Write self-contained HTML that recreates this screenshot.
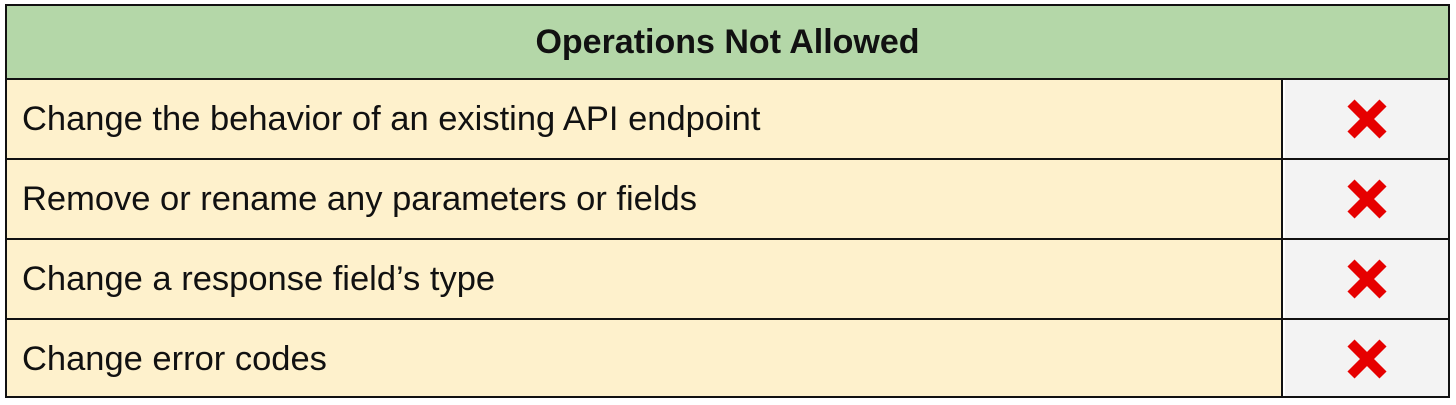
<!DOCTYPE html>
<html><head><style>
body{margin:0;width:1456px;height:405px;background:#fff;font-family:"Liberation Sans",Arial,sans-serif;}
.t{position:absolute;left:5px;top:4px;width:1445px;height:394px;border:2px solid #111;box-sizing:border-box;}
.h{position:absolute;left:0;top:0;width:1441px;height:72px;background:#b4d7a8;border-bottom:2px solid #111;text-align:center;line-height:72px;font-weight:bold;font-size:34px;color:#111;}
.r{position:absolute;left:0;width:1441px;height:80px;box-sizing:border-box;border-bottom:2px solid #111;}
.l{position:absolute;left:0;top:0;width:1276px;height:78px;background:#fef1cc;border-right:2px solid #111;font-size:34.5px;line-height:78px;padding-left:15px;box-sizing:border-box;color:#111;}
.c{position:absolute;left:1278px;top:0;width:163px;height:78px;background:#f3f3f3;}
.c svg{position:absolute;left:60px;top:17px;}
</style></head><body>
<div class="t">
<div class="h">Operations Not Allowed</div>
<div class="r" style="top:74px"><div class="l">Change the behavior of an existing API endpoint</div><div class="c"><svg width="44" height="44"><path d="M6 6L38 38M38 6L6 38" stroke="#e60000" stroke-width="10"/></svg></div></div>
<div class="r" style="top:154px"><div class="l">Remove or rename any parameters or fields</div><div class="c"><svg width="44" height="44"><path d="M6 6L38 38M38 6L6 38" stroke="#e60000" stroke-width="10"/></svg></div></div>
<div class="r" style="top:234px"><div class="l">Change a response field’s type</div><div class="c"><svg width="44" height="44"><path d="M6 6L38 38M38 6L6 38" stroke="#e60000" stroke-width="10"/></svg></div></div>
<div class="r" style="top:314px;border-bottom:none;height:76px"><div class="l" style="height:76px;line-height:78px">Change error codes</div><div class="c" style="height:76px"><svg width="44" height="44"><path d="M6 6L38 38M38 6L6 38" stroke="#e60000" stroke-width="10"/></svg></div></div>
</div>
</body></html>
